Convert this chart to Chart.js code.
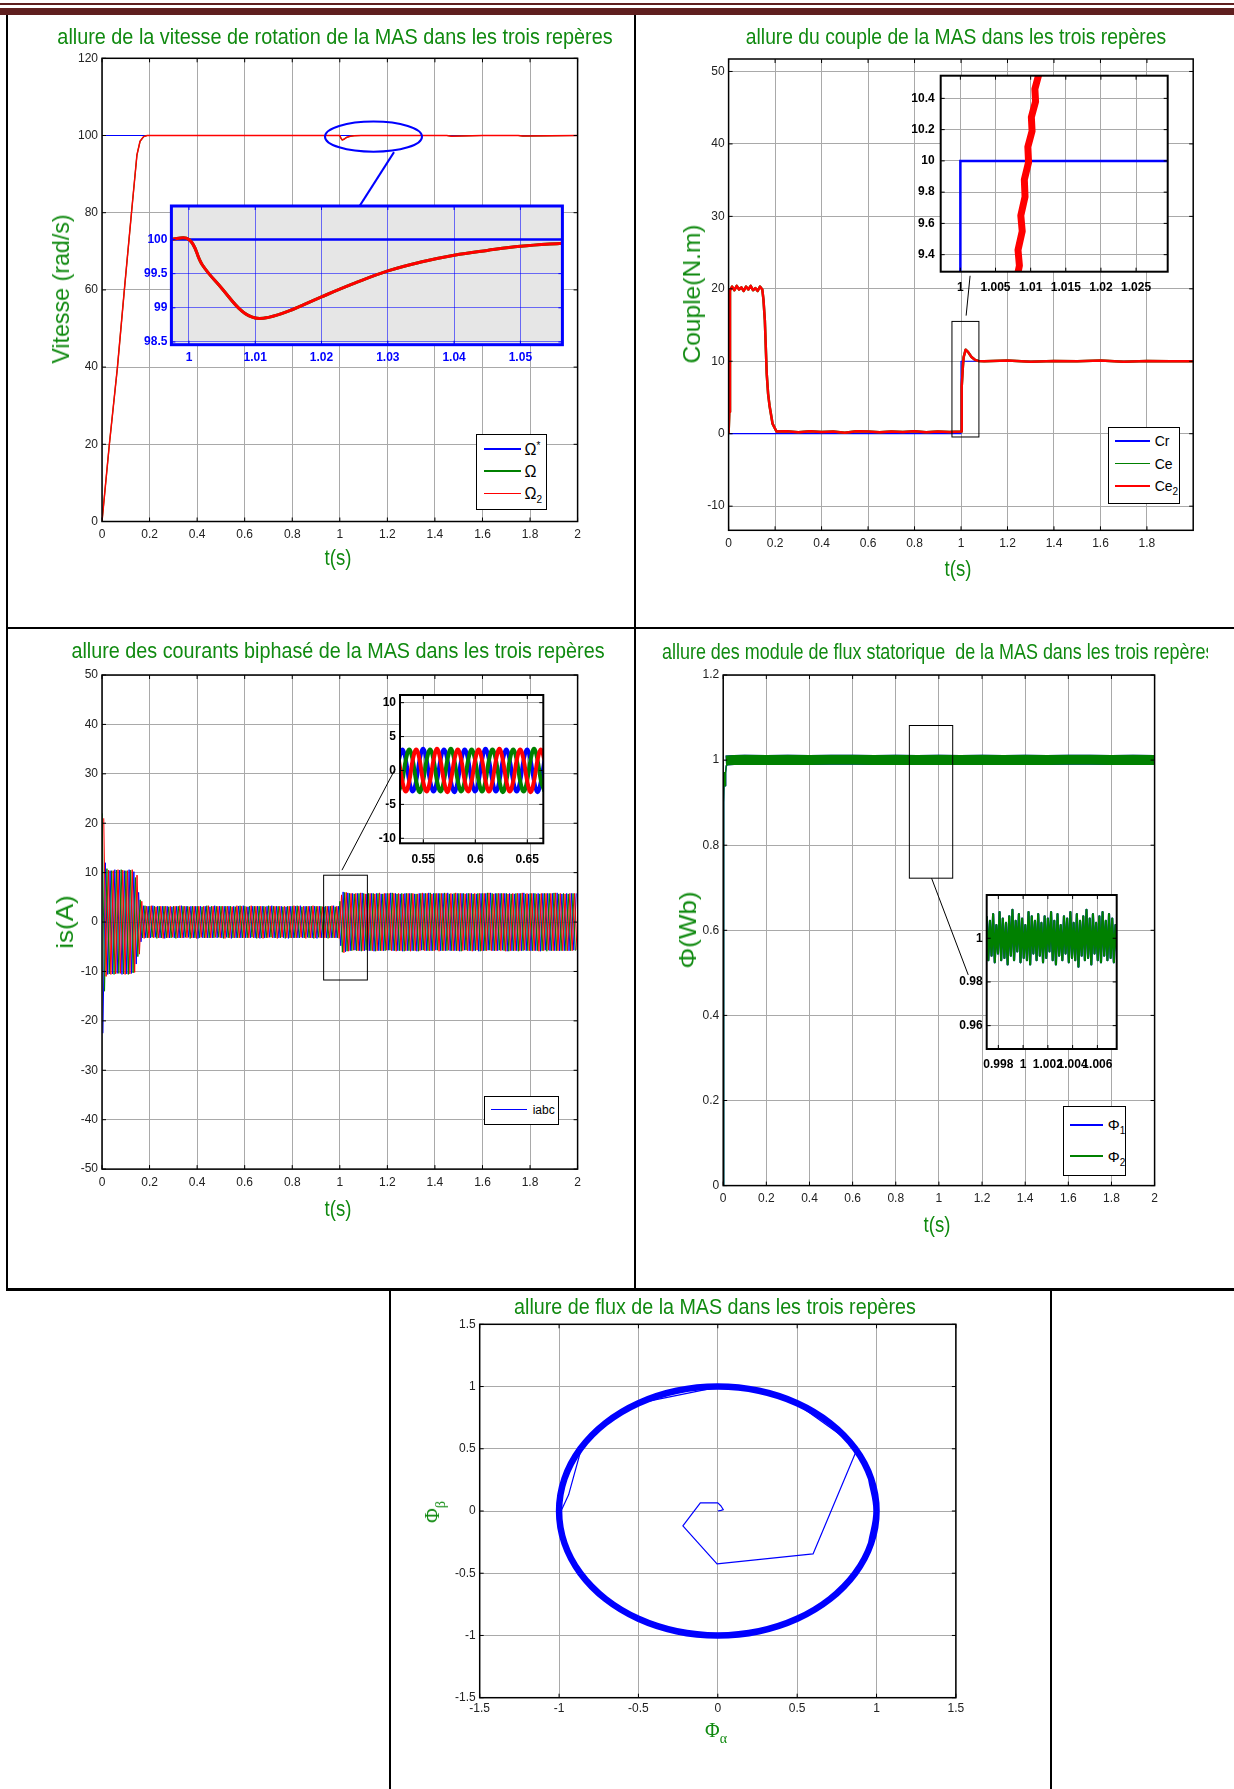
<!DOCTYPE html>
<html lang="fr">
<head>
<meta charset="utf-8">
<title>Allures de la MAS</title>
<script src="https://cdn.jsdelivr.net/npm/chart.js@4.4.1/dist/chart.umd.min.js"></script>
<style>
  html, body { margin:0; padding:0; background:#fff; }
  #page { position:relative; width:1234px; height:1789px; overflow:hidden; background:#fff; }
  #page canvas { position:absolute; }
  .bar { position:absolute; background:#5f1f1f; }
  .rule { position:absolute; background:#000; }
  .ttl { position:absolute; transform:translate(-50%,-50%); white-space:nowrap; color:#108a10;
         font-family:'Liberation Sans',Arial,sans-serif; font-size:22px; line-height:1; }
  .ylab { position:absolute; transform:translate(-50%,-50%) rotate(-90deg); white-space:nowrap; color:#108a10;
          font-family:'Liberation Sans',Arial,sans-serif; font-size:24px; line-height:1; }
  .greek { font-family:'Liberation Serif','Times New Roman',serif; }
  .lg { position:absolute; border:1.5px solid #000; background:#fff; box-sizing:border-box; }
  .lgl { position:absolute; height:1.5px; }
  .lgt { position:absolute; transform:translateY(-50%); white-space:nowrap; color:#000; line-height:1;
         font-family:'Liberation Sans',Arial,sans-serif; }
  .sup { font-size:10px; position:relative; top:-6px; }
  .sub { font-size:10px; position:relative; top:4px; }
  .gsub { font-size:14px; position:relative; top:6px; }
</style>
</head>
<body>
<div id="page">
  <!-- page header band -->
  <div class="bar" style="left:0;top:3px;width:1234px;height:2px"></div>
  <div class="bar" style="left:0;top:8px;width:1234px;height:7px"></div>
  <!-- table rules -->
  <div class="rule" style="left:6px;top:15px;width:2px;height:1275px"></div>
  <div class="rule" style="left:634px;top:15px;width:2px;height:1275px"></div>
  <div class="rule" style="left:6px;top:627px;width:1228px;height:2px"></div>
  <div class="rule" style="left:6px;top:1288px;width:1228px;height:3px"></div>
  <div class="rule" style="left:389px;top:1288px;width:2px;height:501px"></div>
  <div class="rule" style="left:1050px;top:1288px;width:2px;height:501px"></div>

  <canvas id="cSpeed"></canvas>
  <canvas id="cTorque"></canvas>
  <canvas id="cCurrent"></canvas>
  <canvas id="cFluxMod"></canvas>
  <canvas id="cLocus"></canvas>
  <canvas id="cSpeedZoom"></canvas>
  <canvas id="cTorqueZoom"></canvas>
  <canvas id="cCurrentZoom"></canvas>
  <canvas id="cFluxZoom"></canvas>

  <!-- titles (data-w: printed width in px) -->
  <div class="ttl" data-w="555" style="left:335px;top:37px">allure de la vitesse de rotation de la MAS dans les trois repères</div>
  <div class="ttl" data-w="420" style="left:955.5px;top:37px">allure du couple de la MAS dans les trois repères</div>
  <div class="ttl" data-w="533" style="left:338px;top:651px">allure des courants biphasé de la MAS dans les trois repères</div>
  <div style="position:absolute;left:640px;top:630px;width:568px;height:46px;overflow:hidden">
    <div class="ttl" data-w="552" data-anchor="left" style="left:21.6px;top:22px;transform-origin:0 50%">allure des module de flux statorique&nbsp; de la MAS dans les trois repères</div>
  </div>
  <div class="ttl" data-w="402" style="left:715px;top:1307px">allure de flux de la MAS dans les trois repères</div>

  <!-- axis titles -->
  <div class="ylab" data-w="149" style="left:61px;top:289px">Vitesse (rad/s)</div>
  <div class="ttl" data-w="27" style="left:337.5px;top:558px">t(s)</div>
  <div class="ylab" data-w="139" style="left:691.6px;top:294px">Couple(N.m)</div>
  <div class="ttl" data-w="27" style="left:958px;top:568.5px">t(s)</div>
  <div class="ylab" data-w="53" style="left:65px;top:922px">is(A)</div>
  <div class="ttl" data-w="27" style="left:337.5px;top:1209px">t(s)</div>
  <div class="ylab" data-w="77" style="left:688px;top:930px">Φ(Wb)</div>
  <div class="ttl" data-w="27" style="left:937px;top:1225px">t(s)</div>
  <div class="ylab greek" style="left:432px;top:1512px;font-size:20px">Φ<span class="gsub">β</span></div>
  <div class="ttl greek" style="left:716px;top:1730px;font-size:20px">Φ<span class="gsub">α</span></div>

  <!-- legends -->
  <div class="lg" style="left:476px;top:434px;width:71px;height:76px"></div>
  <div class="lgl" style="left:484px;top:448.3px;width:37px;background:#0000ff"></div>
  <div class="lgl" style="left:484px;top:470.3px;width:37px;background:#008000"></div>
  <div class="lgl" style="left:484px;top:492.7px;width:37px;background:#ff0000"></div>
  <div class="lgt greek" style="left:524.5px;top:450px;font-size:16px">Ω<span class="sup">*</span></div>
  <div class="lgt greek" style="left:524.5px;top:472px;font-size:16px">Ω</div>
  <div class="lgt greek" style="left:524.5px;top:494px;font-size:16px">Ω<span class="sub">2</span></div>

  <div class="lg" style="left:1107.6px;top:426.7px;width:72px;height:77.5px"></div>
  <div class="lgl" style="left:1114.6px;top:440px;width:35.4px;background:#0000ff"></div>
  <div class="lgl" style="left:1114.6px;top:462.5px;width:35.4px;background:#008000"></div>
  <div class="lgl" style="left:1114.6px;top:485.3px;width:35.4px;background:#ff0000"></div>
  <div class="lgt" style="left:1154.7px;top:441px;font-size:14px">Cr</div>
  <div class="lgt" style="left:1154.7px;top:463.5px;font-size:14px">Ce</div>
  <div class="lgt" style="left:1154.7px;top:486px;font-size:14px">Ce<span class="sub">2</span></div>

  <div class="lg" style="left:483.7px;top:1095.7px;width:75.3px;height:29px"></div>
  <div class="lgl" style="left:491px;top:1108.6px;width:35.5px;background:#0000ff"></div>
  <div class="lgt" style="left:532.7px;top:1110px;font-size:12px">iabc</div>

  <div class="lg" style="left:1063.4px;top:1106.3px;width:62.4px;height:70px"></div>
  <div class="lgl" style="left:1070.3px;top:1124px;width:32.7px;background:#0000ff"></div>
  <div class="lgl" style="left:1070.3px;top:1155.3px;width:32.7px;background:#008000"></div>
  <div class="lgt greek" style="left:1107.7px;top:1124px;font-size:15px">Φ<span class="sub">1</span></div>
  <div class="lgt greek" style="left:1107.7px;top:1155.5px;font-size:15px">Φ<span class="sub">2</span></div>
</div>

<script>
// ================= speed of rotation (rad/s) =================
const speedRefT = [0, 2];
const speedRef  = [100, 100];
const speedT = [0, 0.031, 0.065, 0.094, 0.124, 0.147, 0.16, 0.175, 0.19, 0.4, 0.7, 1.0, 1.003, 1.006,
                1.01, 1.015, 1.02, 1.03, 1.045, 1.06, 1.09, 1.3, 1.45, 1.47, 1.6, 1.75, 1.77, 2.0];
const speedOmega = [0, 20, 40, 60, 80, 95, 98.5, 99.7, 100, 100, 100, 100, 99.55, 99.2,
                    98.85, 98.95, 99.15, 99.55, 99.8, 99.93, 100, 100, 100, 99.8, 100, 100, 99.85, 100];
// zoom on the load step
const speedZoomRefT = [0.997, 1.057];
const speedZoomRef  = [100, 100];
const speedZoomT = [0.997, 1.0, 1.002, 1.005, 1.008, 1.01, 1.012, 1.015, 1.02, 1.025, 1.03, 1.035, 1.04, 1.045, 1.05, 1.057];
const speedZoom  = [100, 100, 99.63, 99.28, 98.95, 98.85, 98.86, 98.95, 99.16, 99.36, 99.54, 99.67, 99.77, 99.84, 99.9, 99.95];

// ================= torque (N.m) =================
const torqueRefT = [0, 1, 1, 2];
const torqueRef  = [0, 0, 10, 10];
const torqueT = [
  0, 0.003, 0.006, 0.015, 0.025, 0.035, 0.045, 0.055, 0.065, 0.075,
  0.085, 0.095, 0.105, 0.115, 0.125, 0.135, 0.145, 0.15, 0.156, 0.164,
  0.17, 0.176, 0.189, 0.206, 0.25, 0.3, 0.35, 0.4, 0.45, 0.5,
  0.55, 0.6, 0.65, 0.7, 0.75, 0.8, 0.85, 0.9, 0.95, 0.998,
  1.0, 1.003, 1.0081, 1.0112, 1.02, 1.03, 1.045, 1.06, 1.075, 1.1,
  1.2, 1.3, 1.4, 1.5, 1.6, 1.7, 1.8, 1.9, 2.0];
const torqueCe = [
  0, 3.0, 19.8, 20.3, 19.8, 20.4, 19.9, 20.2, 19.7, 20.3,
  19.9, 20.4, 19.8, 20.1, 19.7, 20.3, 19.9, 18.5, 15.6, 8.3,
  5.5, 3.9, 1.4, 0.3, 0.35, 0.2, 0.35, 0.25, 0.3, 0.15,
  0.35, 0.3, 0.2, 0.3, 0.25, 0.35, 0.2, 0.3, 0.25, 0.3,
  0.3, 6.5, 9.29, 10.55, 11.6, 11.3, 10.6, 10.2, 10.05, 10.0,
  10.1, 9.95, 10.05, 10.0, 10.1, 9.95, 10.05, 10.0, 10.0];
// zoom on the load step
const torqueZoomRefT = [0.997, 1.0, 1.0, 1.03];
const torqueZoomRef  = [0, 0, 10, 10];
const torqueZoomT = [1.0078, 1.0084, 1.0082, 1.0088, 1.0086, 1.0092, 1.0091, 1.0097, 1.0096, 1.0102, 1.0101, 1.0107, 1.0106, 1.0112, 1.0114];
const torqueZoom  = [9.20, 9.33, 9.43, 9.55, 9.65, 9.77, 9.88, 9.99, 10.09, 10.19, 10.28, 10.38, 10.46, 10.56, 10.62];

// ================= stator currents (A) =================
// successive extrema of each phase, one every half period (10 ms)
const curHalfPeriod = 0.01;
const curA0 = 0.004, curB0 = 0.0007, curC0 = 0.0073;
const curA = [
  -22.5,12.0,-10.6,10.4,-10.5,10.6,-10.4,10.5,-10.6,10.4,
  -10.5,10.6,-10.4,10.2,-8.5,6.0,-4.0,
  3.3,-3.2,3.2,-3.2,3.3,-3.1,3.2,-3.2,3.2,-3.3,
  3.2,-3.2,3.1,-3.2,3.2,-3.2,3.3,-3.2,3.2,-3.1,
  3.2,-3.2,3.2,-3.3,3.2,-3.2,3.2,-3.2,3.1,-3.2,
  3.3,-3.2,3.2,-3.2,3.2,-3.1,3.2,-3.3,3.2,-3.2,
  3.2,-3.2,3.3,-3.2,3.1,-3.2,3.2,-3.2,3.2,-3.3,
  3.2,-3.2,3.2,-3.1,3.3,-3.2,3.2,-3.2,3.2,-3.2,
  3.1,-3.3,3.2,-3.2,3.2,-3.2,3.3,-3.2,3.2,-3.1,
  3.2,-3.2,3.2,-3.3,3.2,-3.2,3.1,-3.2,3.2,-3.2,
  3.3,-3.2,3.2,
  -4.8,6.1,-6.0,5.9,
  -5.8,5.8,-5.7,5.8,-5.8,5.9,-5.8,5.7,-5.8,5.8,
  -5.9,5.8,-5.8,5.7,-5.8,5.8,-5.7,5.9,-5.8,5.8,
  -5.8,5.7,-5.9,5.8,-5.8,5.8,-5.8,5.7,-5.9,5.8,
  -5.7,5.8,-5.8,5.9,-5.8,5.8,-5.7,5.8,-5.8,5.8,
  -5.8,5.9,-5.8,5.7,-5.8,5.8,-5.9,5.8,-5.7,5.8,
  -5.8,5.8,-5.8,5.7,-5.9,5.8,-5.8,5.8,-5.7,5.9,
  -5.8,5.8,-5.8,5.8,-5.7,5.8,-5.9,5.8,-5.8,5.7,
  -5.8,5.8,-5.8,5.9,-5.8,5.7,-5.8,5.8,-5.8,5.8,
  -5.9,5.8,-5.7,5.8,-5.8,5.8,-5.8,5.9,-5.8,5.7,
  -5.8,5.8,-5.8,5.8,-5.7,5.8];
const curB = [
  22.0,-14.0,10.8,-10.5,10.4,-10.6,10.5,-10.4,10.6,-10.5,
  10.4,-10.6,10.5,-10.3,9.0,-7.0,4.5,
  -3.2,3.3,-3.2,3.2,-3.1,3.2,-3.3,3.2,-3.2,3.2,
  -3.2,3.1,-3.2,3.2,-3.3,3.2,-3.2,3.2,-3.1,3.2,
  -3.3,3.2,-3.2,3.2,-3.2,3.1,-3.2,3.3,-3.2,3.2,
  -3.2,3.2,-3.1,3.2,-3.3,3.2,-3.2,3.2,-3.2,3.1,
  -3.2,3.3,-3.2,3.2,-3.2,3.2,-3.1,3.2,-3.3,3.2,
  -3.2,3.2,-3.2,3.3,-3.1,3.2,-3.2,3.2,-3.2,3.1,
  -3.3,3.2,-3.2,3.2,-3.2,3.3,-3.2,3.1,-3.2,3.2,
  -3.2,3.2,-3.3,3.2,-3.1,3.2,-3.2,3.2,-3.3,3.2,
  -3.2,3.1,-3.2,
  4.2,-6.1,6.0,-5.9,
  5.8,-5.8,5.7,-5.8,5.8,-5.9,5.8,-5.7,5.8,-5.8,
  5.8,-5.9,5.8,-5.8,5.7,-5.8,5.8,-5.7,5.9,-5.8,
  5.7,-5.8,5.8,-5.9,5.8,-5.8,5.8,-5.8,5.7,-5.9,
  5.8,-5.7,5.8,-5.8,5.9,-5.8,5.8,-5.7,5.8,-5.8,
  5.9,-5.8,5.7,-5.8,5.8,-5.8,5.8,-5.9,5.8,-5.7,
  5.8,-5.8,5.7,-5.8,5.8,-5.9,5.8,-5.8,5.9,-5.7,
  5.8,-5.8,5.8,-5.7,5.8,-5.8,5.8,-5.9,5.7,-5.8,
  5.8,-5.9,5.8,-5.8,5.7,-5.8,5.8,-5.8,5.8,-5.8,
  5.7,-5.8,5.8,-5.9,5.8,-5.8,5.9,-5.8,5.7,-5.8,
  5.8,-5.8,5.7,-5.8,5.8,-5.8];
const curC = [
  21.0,-11.0,10.5,-10.6,10.4,-10.5,10.6,-10.4,10.5,-10.6,
  10.4,-10.5,10.6,-10.2,9.5,-6.5,4.2,
  -3.3,3.2,-3.2,3.3,-3.2,3.1,-3.2,3.2,-3.3,3.2,
  -3.2,3.2,-3.1,3.2,-3.2,3.3,-3.2,3.2,-3.2,3.1,
  -3.2,3.2,-3.3,3.2,-3.1,3.2,-3.2,3.3,-3.2,3.2,
  -3.1,3.2,-3.2,3.2,-3.3,3.2,-3.2,3.1,-3.2,3.3,
  -3.2,3.2,-3.2,3.1,-3.2,3.3,-3.2,3.2,-3.2,3.2,
  -3.3,3.1,-3.2,3.2,-3.2,3.2,-3.3,3.2,-3.1,3.2,
  -3.2,3.2,-3.2,3.3,-3.2,3.2,-3.1,3.2,-3.3,3.2,
  -3.2,3.3,-3.2,3.2,-3.2,3.1,-3.2,3.2,-3.2,3.3,
  -3.2,3.2,-3.3,
  5.5,-6.2,6.0,-5.9,
  5.8,-5.7,5.8,-5.8,5.9,-5.8,5.7,-5.8,5.8,-5.8,
  5.7,-5.8,5.9,-5.8,5.8,-5.7,5.8,-5.8,5.8,-5.9,
  5.8,-5.8,5.7,-5.8,5.8,-5.9,5.8,-5.8,5.7,-5.8,
  5.9,-5.8,5.8,-5.8,5.7,-5.8,5.8,-5.9,5.8,-5.8,
  5.8,-5.7,5.8,-5.8,5.9,-5.8,5.8,-5.8,5.7,-5.8,
  5.8,-5.9,5.8,-5.7,5.8,-5.8,5.8,-5.8,5.9,-5.8,
  5.7,-5.8,5.8,-5.8,5.8,-5.9,5.7,-5.8,5.8,-5.8,
  5.8,-5.8,5.9,-5.7,5.8,-5.8,5.8,-5.8,5.7,-5.9,
  5.8,-5.8,5.8,-5.7,5.8,-5.8,5.9,-5.8,5.8,-5.8,
  5.7,-5.8,5.8,-5.8,5.8,-5.7];
// zoom 0.53 .. 0.665 s, one sample every sixth of a period
const curZoomT0 = 0.5265, curZoomStep = 0.02 / 6;
const curZoomA = [
  1.55,3.1,1.55,-1.55,-3.1,-1.55,  1.6,3.2,1.55,-1.5,-3.1,-1.55,  1.55,3.1,1.6,-1.55,-3.2,-1.55,
  1.5,3.1,1.55,-1.55,-3.1,-1.6,  1.55,3.2,1.55,-1.55,-3.1,-1.55,  1.55,3.1,1.5,-1.6,-3.1,-1.55,
  1.55,3.1,1.55,-1.55,-3.2,-1.55,  1.55];
const curZoomB = [
  -3.1,-1.55,1.55,3.1,1.55,-1.55,  -3.2,-1.55,1.5,3.1,1.6,-1.55,  -3.1,-1.55,1.55,3.2,1.55,-1.55,
  -3.1,-1.6,1.55,3.1,1.55,-1.5,  -3.1,-1.55,1.55,3.1,1.55,-1.55,  -3.2,-1.55,1.6,3.1,1.55,-1.55,
  -3.1,-1.55,1.55,3.2,1.55,-1.55,  -3.1];
const curZoomC = [
  1.55,-1.55,-3.1,-1.55,1.55,3.1,  1.55,-1.6,-3.1,-1.55,1.55,3.2,  1.55,-1.55,-3.2,-1.5,1.55,3.1,
  1.6,-1.55,-3.1,-1.55,1.55,3.1,  1.55,-1.55,-3.1,-1.6,1.5,3.2,  1.55,-1.55,-3.1,-1.55,1.55,3.1,
  1.55,-1.5,-3.2,-1.55,1.55,3.1,  1.55];

// ================= stator flux modulus (Wb) =================
const fluxStartT = [0, 0.0015, 0.002, 0.003, 0.0045, 0.006, 0.009, 0.011, 0.014, 0.02];
const fluxStart  = [0, 0.3, 0.69, 0.9, 0.97, 0.955, 0.94, 0.97, 0.985, 0.995];
const fluxT = [0.012, 0.05, 0.1, 0.2, 0.3, 0.4, 0.5, 0.6, 0.7, 0.8, 0.9, 1.0, 1.1, 1.2, 1.3, 1.4, 1.5, 1.6, 1.7, 1.8, 1.9, 2.0];
const fluxMod = [0.999, 1.0, 1.001, 1.0, 1.001, 1.0, 1.001, 1.001, 1.0, 1.001, 1.0, 1.001, 1.0, 1.001, 1.0, 1.001, 1.0, 1.001, 1.001, 1.0, 1.001, 1.0];
// zoom 0.997 .. 1.0075 s, sampled every 0.13 ms
const fluxZoomT0 = 0.99706, fluxZoomStep = 0.00013;
const fluxZoom = [
  1.010,0.990,1.008,0.992,1.011,0.989,1.006,0.993,1.012,0.990,
  1.009,0.991,1.007,0.988,1.010,0.992,1.013,0.990,1.008,0.994,
  1.011,0.989,1.009,0.991,1.006,0.990,1.012,0.988,1.010,0.993,
  1.008,0.990,1.011,0.992,1.007,0.989,1.010,0.991,1.009,0.994,
  1.012,0.990,1.008,0.988,1.011,0.992,1.006,0.990,1.010,0.993,
  1.009,0.989,1.012,0.991,1.007,0.990,1.011,0.987,1.008,0.992,
  1.010,0.990,1.013,0.991,1.009,0.988,1.011,0.993,1.007,0.990,
  1.010,0.989,1.012,0.992,1.008,0.990,1.011,0.991,1.009,0.989,
  1.006,0.994];

// ================= flux locus (alpha, beta) =================
const locusAlpha = [0, 0.02, 0.035, 0.02, 0.0, -0.11, -0.22, -0.005, 0.6, 0.865, 0.88, 0.84, 0.5, 0.26, 0.0, -0.52, -0.7, -0.86, -0.94, -0.98, -1.0];
const locusBeta  = [0, 0.005, 0.01, 0.04, 0.065, 0.065, -0.12, -0.425, -0.345, 0.46, 0.5, 0.55, 0.86, 0.965, 0.995, 0.86, 0.71, 0.5, 0.13, 0.02, -0.02];
const circleAlpha = [0.966, 1, 0.966, 0.866, 0.707, 0.5, 0.259, 0, -0.259, -0.5, -0.707, -0.866, -0.966, -1,
                     -0.966, -0.866, -0.707, -0.5, -0.259, 0, 0.259, 0.5, 0.707, 0.866, 0.966, 1, 0.966];
const circleBeta  = [-0.259, 0, 0.259, 0.5, 0.707, 0.866, 0.966, 1, 0.966, 0.866, 0.707, 0.5, 0.259, 0,
                     -0.259, -0.5, -0.707, -0.866, -0.966, -1, -0.966, -0.866, -0.707, -0.5, -0.259, 0, 0.259];

// ================= tick labels =================
const tTicks       = [0, 0.2, 0.4, 0.6, 0.8, 1, 1.2, 1.4, 1.6, 1.8, 2];
const tTicksTorque = [0, 0.2, 0.4, 0.6, 0.8, 1, 1.2, 1.4, 1.6, 1.8];
const speedTicks   = [0, 20, 40, 60, 80, 100, 120];
const torqueTicks  = [-10, 0, 10, 20, 30, 40, 50];
const currentTicks = [-50, -40, -30, -20, -10, 0, 10, 20, 30, 40, 50];
const fluxTicks    = [0, 0.2, 0.4, 0.6, 0.8, 1, 1.2];
const locusTicks   = [-1.5, -1, -0.5, 0, 0.5, 1, 1.5];
const speedZoomTicksX  = [1, 1.01, 1.02, 1.03, 1.04, 1.05];
const speedZoomTicksY  = [98.5, 99, 99.5, 100];
const torqueZoomTicksX = [1, 1.005, 1.01, 1.015, 1.02, 1.025];
const torqueZoomTicksY = [9.4, 9.6, 9.8, 10, 10.2, 10.4];
const curZoomTicksX    = [0.55, 0.6, 0.65];
const curZoomTicksY    = [-10, -5, 0, 5, 10];
const fluxZoomTicksX   = [0.998, 1, 1.002, 1.004, 1.006];
const fluxZoomTicksY   = [0.96, 0.98, 1];

// ---------------------------------------------------------------
// squeeze the green captions to their printed widths (narrow face)
document.querySelectorAll('[data-w]').forEach(el => {
  const f = (+el.dataset.w) / el.offsetWidth;
  let base = 'translate(-50%,-50%)';
  if (el.classList.contains('ylab')) base = 'translate(-50%,-50%) rotate(-90deg)';
  if (el.dataset.anchor === 'left') base = 'translateY(-50%)';
  el.style.transform = base + ' scaleX(' + f + ')';
});

const BLUE = '#0000ff', GREEN = '#008000', RED = '#ff0000';
const SANS = "'Liberation Sans', Arial, sans-serif";
const fmt = v => String(+Number(v).toFixed(6));
const pts = (xs, ys) => ys.map((y, i) => ({ x: xs[i], y }));
const sampled = (t0, dt, ys) => ys.map((y, i) => ({ x: t0 + i * dt, y }));

function axis(min, max, ticks, o = {}) {
  return {
    type: 'linear', min, max,
    afterBuildTicks: s => { s.ticks = ticks.map(v => ({ value: v })); },
    ticks: { callback: fmt, autoSkip: false, maxRotation: 0, minRotation: 0, padding: o.pad ?? 6,
             color: o.tickColor || '#222',
             font: { family: SANS, size: 12, weight: o.bold ? 'bold' : 'normal' } },
    grid: { color: o.gridColor || '#a9a9a9', lineWidth: 1, drawTicks: false },
    border: { display: false }
  };
}
function line(data, color, width, extra) {
  return Object.assign({ data, borderColor: color, backgroundColor: color, borderWidth: width,
    pointRadius: 0, showLine: true, fill: false, tension: 0, borderJoinStyle: 'round' }, extra || {});
}
// later datasets are painted over earlier ones
function config(datasets, x, y) {
  datasets.forEach((d, i) => { d.order = datasets.length - i; });
  return { type: 'scatter', data: { datasets },
    options: { responsive: false, animation: false, devicePixelRatio: 1, events: [],
      plugins: { legend: { display: false }, tooltip: { enabled: false } },
      scales: { x, y } } };
}

// frame, inward ticks, background and callouts for each plot
const decor = {
  cSpeed: { shapes: [
    { type: 'ellipse', cx: 1.1417, cy: 99.7, rx: 0.204, ry: 3.9, color: BLUE, width: 2 },
    { type: 'line', x1: 1.228, y1: 95.7, x2: 1.081, y2: 81.5, color: BLUE, width: 2 } ] },
  cTorque: { shapes: [
    { type: 'rect', x1: 0.961, y1: 15.5, x2: 1.077, y2: -0.45, color: '#000', width: 1 },
    { type: 'line', x1: 1.022, y1: 16.3, x2: 1.039, y2: 21.8, color: '#000', width: 1 } ] },
  cCurrent: { shapes: [
    { type: 'rect', x1: 0.932, y1: 9.48, x2: 1.116, y2: -11.73, color: '#000', width: 1 },
    { type: 'line', x1: 1.009, y1: 10.5, x2: 1.232, y2: 30.9, color: '#000', width: 1 } ] },
  cFluxMod: { shapes: [
    { type: 'rect', x1: 0.863, y1: 1.0813, x2: 1.064, y2: 0.7225, color: '#000', width: 1 },
    { type: 'line', x1: 0.966, y1: 0.7225, x2: 1.136, y2: 0.4952, color: '#000', width: 1 } ] },
  cLocus: {},
  cSpeedZoom:   { bg: '#e6e6e6', frame: BLUE, frameWidth: 3 },
  cTorqueZoom:  { bg: '#ffffff', frameWidth: 2 },
  cCurrentZoom: { bg: '#ffffff', frameWidth: 2 },
  cFluxZoom:    { bg: '#ffffff', frameWidth: 2 }
};

Chart.register({
  id: 'matlabFrame',
  beforeDraw(chart) {
    const d = decor[chart.canvas.id] || {};
    if (!d.bg) return;
    const a = chart.chartArea, ctx = chart.ctx;
    ctx.save(); ctx.fillStyle = d.bg;
    ctx.fillRect(a.left, a.top, a.right - a.left, a.bottom - a.top);
    ctx.restore();
  },
  afterDatasetsDraw(chart) {
    const d = decor[chart.canvas.id] || {};
    const a = chart.chartArea, ctx = chart.ctx, xs = chart.scales.x, ys = chart.scales.y;
    const seg = (x1, y1, x2, y2) => { ctx.beginPath(); ctx.moveTo(x1, y1); ctx.lineTo(x2, y2); ctx.stroke(); };
    ctx.save();
    (d.shapes || []).forEach(s => {
      ctx.strokeStyle = s.color; ctx.lineWidth = s.width;
      if (s.type === 'ellipse') {
        const cx = xs.getPixelForValue(s.cx), cy = ys.getPixelForValue(s.cy);
        const rx = Math.abs(xs.getPixelForValue(s.cx + s.rx) - cx), ry = Math.abs(ys.getPixelForValue(s.cy + s.ry) - cy);
        ctx.beginPath(); ctx.ellipse(cx, cy, rx, ry, 0, 0, Math.PI * 2); ctx.stroke();
      } else if (s.type === 'rect') {
        const x1 = xs.getPixelForValue(s.x1), x2 = xs.getPixelForValue(s.x2);
        const y1 = ys.getPixelForValue(s.y1), y2 = ys.getPixelForValue(s.y2);
        ctx.strokeRect(x1, y1, x2 - x1, y2 - y1);
      } else {
        seg(xs.getPixelForValue(s.x1), ys.getPixelForValue(s.y1), xs.getPixelForValue(s.x2), ys.getPixelForValue(s.y2));
      }
    });
    ctx.strokeStyle = d.frame || '#000';
    ctx.lineWidth = 1;
    const L = 4;
    xs.ticks.forEach(t => { const x = xs.getPixelForValue(t.value); seg(x, a.top, x, a.top + L); seg(x, a.bottom, x, a.bottom - L); });
    ys.ticks.forEach(t => { const y = ys.getPixelForValue(t.value); seg(a.left, y, a.left + L, y); seg(a.right, y, a.right - L, y); });
    ctx.lineWidth = d.frameWidth || 1.5;
    ctx.strokeRect(a.left, a.top, a.right - a.left, a.bottom - a.top);
    ctx.restore();
  }
});

// place a canvas so that its plot area lands on the given rectangle
function mount(id, area, m, cfg) {
  const cv = document.getElementById(id);
  const x0 = Math.floor(area.l - m.l), y0 = Math.floor(area.t - m.t);
  const W = Math.ceil(area.r + m.r) - x0, H = Math.ceil(area.b + m.b) - y0;
  const ml = area.l - x0, mt = area.t - y0, mr = x0 + W - area.r, mb = y0 + H - area.b;
  cv.width = W; cv.height = H;
  cv.style.left = x0 + 'px'; cv.style.top = y0 + 'px';
  cv.style.width = W + 'px'; cv.style.height = H + 'px';
  cfg.options.layout = { padding: { left: 0, top: mt, right: mr, bottom: 0 } };
  cfg.options.scales.x.afterFit = s => { s.height = mb; };
  cfg.options.scales.y.afterFit = s => { s.width = ml; };
  return new Chart(cv, cfg);
}
const MAIN = { l: 62, t: 16, r: 24, b: 28 };

// ---- speed ----
mount('cSpeed', { l: 102, t: 58.3, r: 577.6, b: 521.5 }, MAIN, config([
  line(pts(speedRefT, speedRef), BLUE, 1.2),
  line(pts(speedT, speedOmega), GREEN, 1.2),
  line(pts(speedT, speedOmega), RED, 1.5)
], axis(0, 2, tTicks), axis(0, 120, speedTicks, { pad: 4 })));

mount('cSpeedZoom', { l: 171.4, t: 206, r: 562.4, b: 344.7 }, { l: 36, t: 14, r: 18, b: 26 }, config([
  line(pts(speedZoomRefT, speedZoomRef), BLUE, 2.5),
  line(pts(speedZoomT, speedZoom), GREEN, 3, { tension: 0.4 }),
  line(pts(speedZoomT, speedZoom), RED, 3, { tension: 0.4 })
], axis(0.99735, 1.05634, speedZoomTicksX, { bold: true, tickColor: BLUE, gridColor: 'rgba(0,0,255,0.55)', pad: 6 }),
   axis(98.46, 100.49, speedZoomTicksY, { bold: true, tickColor: BLUE, gridColor: 'rgba(0,0,255,0.55)', pad: 4 })));

// ---- torque ----
mount('cTorque', { l: 728.6, t: 59, r: 1193.2, b: 530.3 }, MAIN, config([
  line(pts(torqueRefT, torqueRef), BLUE, 1.2),
  line(pts(torqueT, torqueCe), GREEN, 2.5),
  line(pts(torqueT, torqueCe), RED, 2.5)
], axis(0, 1.999, tTicksTorque), axis(-13.33, 51.72, torqueTicks, { pad: 4 })));

mount('cTorqueZoom', { l: 940.7, t: 75.7, r: 1167.7, b: 271.7 }, { l: 44, t: 14, r: 18, b: 28 }, config([
  line(pts(torqueZoomRefT, torqueZoomRef), BLUE, 2.5, { borderJoinStyle: 'miter' }),
  line(pts(torqueZoomT, torqueZoom), RED, 7)
], axis(0.9972, 1.0295, torqueZoomTicksX, { bold: true, tickColor: '#000', pad: 9 }),
   axis(9.291, 10.545, torqueZoomTicksY, { bold: true, tickColor: '#000', pad: 6 })));

// ---- currents ----
mount('cCurrent', { l: 102, t: 675, r: 577.6, b: 1169.1 }, MAIN, config([
  line(sampled(curA0, curHalfPeriod, curA), BLUE, 1),
  line(sampled(curB0, curHalfPeriod, curB), GREEN, 1),
  line(sampled(curC0, curHalfPeriod, curC), RED, 1)
], axis(0, 2, tTicks), axis(-50, 50, currentTicks, { pad: 4 })));

mount('cCurrentZoom', { l: 400, t: 695, r: 543.3, b: 843.3 }, { l: 34, t: 14, r: 18, b: 28 }, config([
  line(sampled(curZoomT0, curZoomStep, curZoomA), BLUE, 4, { tension: 0.4 }),
  line(sampled(curZoomT0, curZoomStep, curZoomB), GREEN, 4, { tension: 0.4 }),
  line(sampled(curZoomT0, curZoomStep, curZoomC), RED, 4, { tension: 0.4 })
], axis(0.5276, 0.6654, curZoomTicksX, { bold: true, tickColor: '#000', pad: 9 }),
   axis(-10.74, 11.13, curZoomTicksY, { bold: true, tickColor: '#000', pad: 4 })));

// ---- flux modulus ----
mount('cFluxMod', { l: 723.2, t: 675, r: 1154.6, b: 1185.6 }, MAIN, config([
  line(pts(fluxStartT, fluxStart), BLUE, 1.5),
  line(pts(fluxT, fluxMod), BLUE, 10, { borderCapStyle: 'butt' }),
  line(pts(fluxStartT, fluxStart), GREEN, 1.5),
  line(pts(fluxT, fluxMod), GREEN, 10, { borderCapStyle: 'butt' })
], axis(0, 2, tTicks), axis(0, 1.2, fluxTicks, { pad: 4 })));

mount('cFluxZoom', { l: 986.7, t: 895, r: 1116.7, b: 1049 }, { l: 40, t: 14, r: 18, b: 26 }, config([
  line(sampled(fluxZoomT0, fluxZoomStep, fluxZoom), BLUE, 2.2),
  line(sampled(fluxZoomT0, fluxZoomStep, fluxZoom), GREEN, 2.2)
], axis(0.99706, 1.00756, fluxZoomTicksX, { bold: true, tickColor: '#000', pad: 8 }),
   axis(0.9493, 1.0198, fluxZoomTicksY, { bold: true, tickColor: '#000', pad: 4 })));

// ---- flux locus ----
mount('cLocus', { l: 479.7, t: 1324.3, r: 955.9, b: 1697.7 }, { l: 40, t: 16, r: 24, b: 28 }, config([
  line(pts(locusAlpha, locusBeta), BLUE, 1.2),
  line(pts(circleAlpha, circleBeta), BLUE, 6.5, { tension: 0.4 })
], axis(-1.5, 1.5, locusTicks, { pad: 4 }), axis(-1.5, 1.5, locusTicks, { pad: 4 })));
</script>
</body>
</html>
